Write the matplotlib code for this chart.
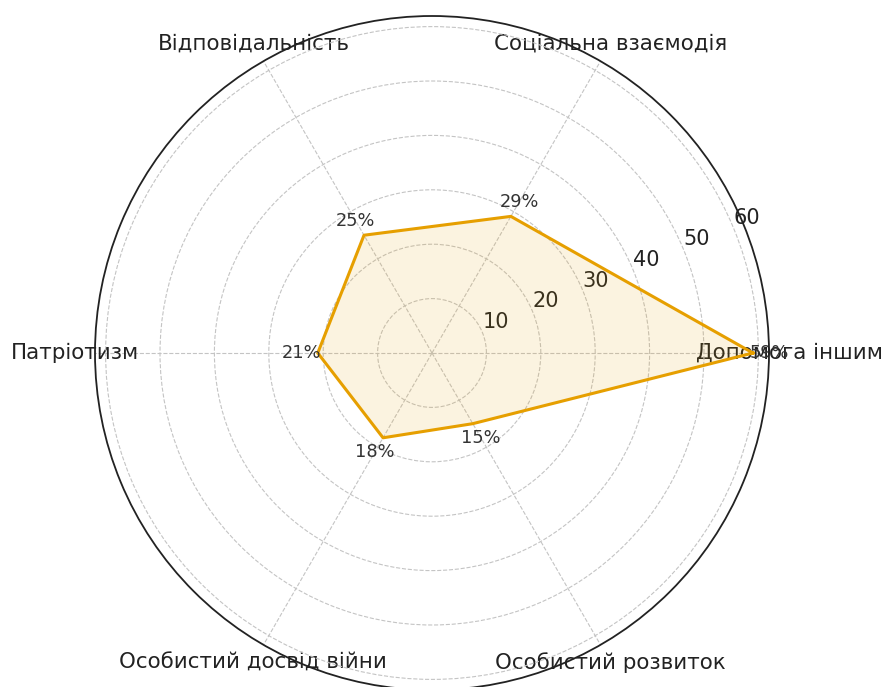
import numpy as np
import matplotlib
matplotlib.use("Agg")
import matplotlib.pyplot as plt

categories = ["Допомога іншим", "Соціальна взаємодія", "Відповідальність",
              "Патріотизм", "Особистий досвід війни", "Особистий розвиток"]
values = [59, 29, 25, 21, 18, 15]
rticks = [10, 20, 30, 40, 50, 60]

plt.rcParams['font.family'] = ['DejaVu Sans']

W, H = 883, 687
fig = plt.figure(figsize=(W / 100, H / 100), dpi=100)
cx, cy, R = 432, 353, 337
ax = fig.add_axes([(cx - R) / W, (H - cy - R) / H, 2 * R / W, 2 * R / H], projection='polar')

n = len(categories)
angles = np.linspace(0, 2 * np.pi, n, endpoint=False)
a_closed = np.concatenate([angles, angles[:1]])
v_closed = values + values[:1]

color = "#E69F00"
ax.fill(a_closed, v_closed, color=color, alpha=0.12, zorder=2)
ax.plot(a_closed, v_closed, color=color, linewidth=2.2, zorder=3)

for a, v in zip(angles, values):
    ax.text(a, v + 3, f"{v}%", ha='center', va='center', fontsize=12.8, color="#333333", zorder=4)

ax.set_ylim(0, max(values) * 1.05)
ax.set_yticks(rticks)
ax.set_yticklabels([str(t) for t in rticks], fontsize=15, color="#222222")
ax.set_rlabel_position(22.5)
ax.set_xticks(angles)
ax.set_xticklabels(categories, fontsize=15.4, color="#222222")
ax.tick_params(axis='x', pad=4)
ax.grid(True, color="#c4c4c4", linestyle='--', linewidth=0.8)
ax.spines['polar'].set_color("#222222")
ax.spines['polar'].set_linewidth(1.3)
ax.spines['polar'].set_zorder(10)

fig.savefig("out.png", dpi=100)
